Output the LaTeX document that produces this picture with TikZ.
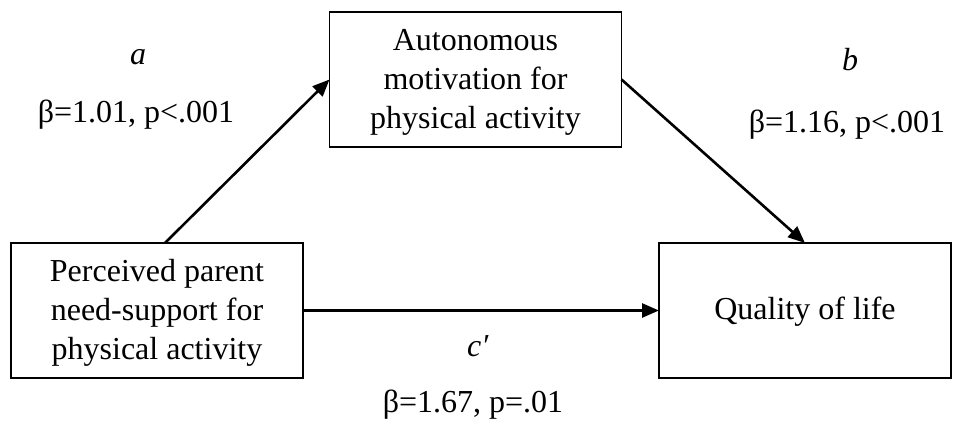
\documentclass[tikz,border=0pt]{standalone}
\usepackage{fontspec}
\setmainfont{Liberation Serif}
\usetikzlibrary{arrows.meta}
\begin{document}
\begin{tikzpicture}[x=0.5pt,y=-0.5pt,
  box/.style={draw, line width=0.8pt, minimum width=146pt, minimum height=67.5pt,
    inner sep=0pt, outer sep=0pt},
  boxtext/.style={align=center, inner sep=0pt, font=\fontsize{16}{19.5}\selectfont},
  lbl/.style={font=\fontsize{16}{20}\selectfont, inner sep=0pt},
  path/.style={line width=1.3pt, -{Triangle[length=8.5pt,width=7pt]}}]
\useasboundingbox (0,0) rectangle (953,426);
\node[box] (L) at (157,310.5) {};
\node[box] (T) at (475.5,79.5) {};
\node[box] (R) at (805,310.5) {};
\node[boxtext] (Lt) at (157,313) {Perceived parent\\need-support for\\physical activity};
\node[boxtext] (Tt) at (475.5,82) {Autonomous\\motivation for\\physical activity};
\node[boxtext] (Rt) at (805,312) {Quality of life};
\draw[path] ([xshift=4pt]L.north) -- (T.west);
\draw[path] (T.east) -- (R.north);
\draw[path] (L.east) -- (R.west);
\node[lbl] (la) at (138,57) {\textit{a}};
\node[lbl] (lav) at (136,115) {β=1.01, p<.001};
\node[lbl] (lb) at (850,60) {\textit{b}};
\node[lbl] (lbv) at (847,125) {β=1.16, p<.001};
\node[lbl] (lc) at (478,346) {\textit{c′}};
\node[lbl] (lcv) at (473,405) {β=1.67, p=.01};
\end{tikzpicture}
\end{document}
